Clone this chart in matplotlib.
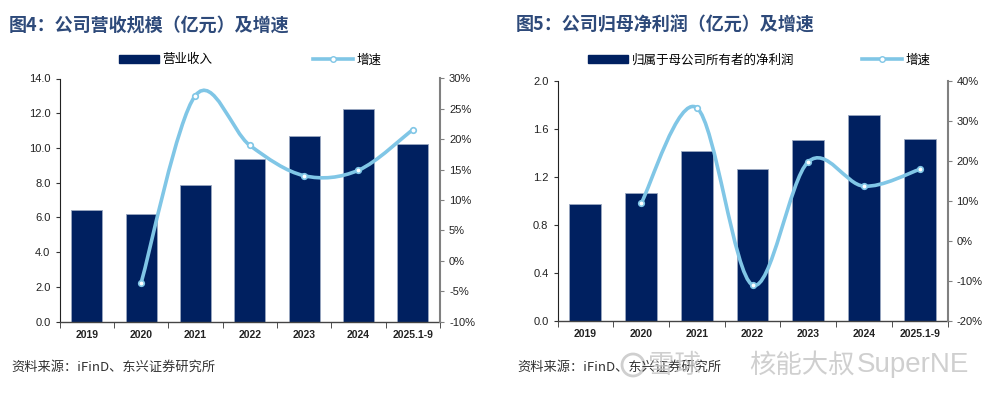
import matplotlib
matplotlib.use("Agg")
import matplotlib.pyplot as plt
import matplotlib.ticker as mticker
from matplotlib.path import Path
from matplotlib.patches import PathPatch, Ellipse
import matplotlib.lines as mlines
import matplotlib.patches as mpatches
import numpy as np

plt.rcParams['font.family'] = ['Liberation Sans', 'Noto Sans CJK SC', 'DejaVu Sans']
CJK = ['Noto Sans CJK SC', 'DejaVu Sans']

years = ['2019', '2020', '2021', '2022', '2023', '2024', '2025.1-9']
revenue = [6.41, 6.18, 7.84, 9.34, 10.66, 12.23, 10.22]
revenue_growth = [None, -0.037, 0.272, 0.190, 0.140, 0.149, 0.216]
profit = [0.972, 1.064, 1.42, 1.264, 1.51, 1.72, 1.52]
profit_growth = [None, 0.094, 0.333, -0.110, 0.198, 0.137, 0.179]

NAVY = '#002060'
SKY = '#80C6E6'
W, H = 1001, 395

fig = plt.figure(figsize=(W / 100, H / 100), dpi=100)


def px_axes(x0, y0, x1, y1):
    return fig.add_axes([x0 / W, 1 - y1 / H, (x1 - x0) / W, (y1 - y0) / H])


def smooth_path(xs, ys):
    # Catmull-Rom style smoothing, like an office "smoothed line"
    pts = np.column_stack([xs, ys])
    verts = [pts[0]]
    codes = [Path.MOVETO]
    n = len(pts)
    for i in range(n - 1):
        p0 = pts[max(i - 1, 0)]
        p1 = pts[i]
        p2 = pts[i + 1]
        p3 = pts[min(i + 2, n - 1)]
        c1 = p1 + (p2 - p0) / 6
        c2 = p2 - (p3 - p1) / 6
        verts += [c1, c2, p2]
        codes += [Path.CURVE4] * 3
    return Path(verts, codes)


def draw_panel(box, values, growth, ylim, ystep, yfmt, glim, gstep):
    ax = px_axes(*box)
    x = np.arange(len(years))
    ax.bar(x, values, width=0.57, color=NAVY, edgecolor='#9AA8C0', linewidth=0.6, zorder=2)
    ax.set_xlim(-0.5, len(years) - 0.5)
    ax.set_ylim(*ylim)
    ax.set_yticks(np.arange(ylim[0], ylim[1] + ystep / 2, ystep))
    ax.yaxis.set_major_formatter(mticker.FormatStrFormatter(yfmt))
    ax.set_xticks(x)
    ax.set_xticklabels(years, fontsize=7.5, fontweight='bold', color='#222222')
    ax.set_xticks(np.arange(-0.5, len(years)), minor=True)
    ax.tick_params(axis='x', which='major', length=0, pad=6)
    ax.tick_params(axis='x', which='minor', length=4, color='#333333')
    ax.tick_params(axis='y', length=3, labelsize=8, color='#333333', labelcolor='#222222')
    for s in ['top', 'right']:
        ax.spines[s].set_visible(False)
    ax.spines['left'].set_color('#222222')
    ax.spines['bottom'].set_color('#444444')
    ax.spines['bottom'].set_linewidth(1.0)

    ax2 = ax.twinx()
    ax2.set_ylim(*glim)
    ax2.set_yticks(np.arange(glim[0], glim[1] + gstep / 2, gstep))
    ax2.yaxis.set_major_formatter(mticker.FuncFormatter(lambda v, p: f'{v * 100:.0f}%'))
    ax2.tick_params(axis='y', length=3, labelsize=8, color='#808080', labelcolor='#222222')
    for s in ['top', 'left', 'bottom']:
        ax2.spines[s].set_visible(False)
    ax2.spines['right'].set_color('#808080')
    ax2.spines['right'].set_linewidth(1.5)

    gx = [i for i, g in enumerate(growth) if g is not None]
    gy = [g for g in growth if g is not None]
    ax2.add_patch(PathPatch(smooth_path(gx, gy), facecolor='none', edgecolor=SKY,
                            linewidth=2.6, zorder=3, capstyle='round'))
    ax2.plot(gx, gy, ls='none', marker='o', ms=4, mfc='white', mec=SKY, mew=1.2, zorder=4)
    return ax, ax2


draw_panel((59.5, 78.5, 440, 321.5), revenue, revenue_growth,
           (0, 14), 2, '%.1f', (-0.10, 0.30), 0.05)
draw_panel((557.5, 81, 947.5, 321), profit, profit_growth,
           (0, 2.0), 0.4, '%.1f', (-0.20, 0.40), 0.10)

# titles
title_kw = dict(fontsize=13, fontweight='bold', color='#2E4A7A', family=CJK, va='center')
fig.text(9 / W, 1 - 25 / H, '图4：公司营收规模（亿元）及增速', **title_kw)
fig.text(516 / W, 1 - 25 / H, '图5：公司归母净利润（亿元）及增速', **title_kw)


# legends
def legend_handles(bar_label):
    bar_h = mpatches.Patch(color=NAVY, label=bar_label)
    line_h = mlines.Line2D([], [], color=SKY, lw=2.6, marker='o', ms=4,
                           mfc='white', mec=SKY, label='增速')
    return [bar_h, line_h]


fig.legend(handles=legend_handles('营业收入'), loc='center',
           bbox_to_anchor=(250 / W, 1 - 60 / H),
           ncol=2, frameon=False, handlelength=3.2, handleheight=0.55,
           handletextpad=0.3, columnspacing=8.0, prop={'family': CJK, 'size': 9})
fig.legend(handles=legend_handles('归属于母公司所有者的净利润'), loc='center',
           bbox_to_anchor=(759 / W, 1 - 60 / H),
           ncol=2, frameon=False, handlelength=3.2, handleheight=0.55,
           handletextpad=0.3, columnspacing=5.4, prop={'family': CJK, 'size': 9})

# sources
src = '资料来源：iFinD、东兴证券研究所'
src_kw = dict(fontsize=9.5, color='#333333', family=CJK, va='center')
fig.text(11 / W, 1 - 367 / H, src, **src_kw)
fig.text(517 / W, 1 - 367 / H, src, **src_kw)

# watermark (overlaps the right source line, as in the original)
wm = '#C4C4C4'
fig.patches.append(Ellipse((633 / W, 1 - 365 / H), 22 / W, 22 / H, transform=fig.transFigure,
                           facecolor='none', edgecolor=wm, lw=2, alpha=0.8))
fig.text(648 / W, 1 - 365 / H, '雪球', fontsize=19, color=wm, family=CJK,
         va='center', alpha=0.8)
fig.text(749 / W, 1 - 365 / H, '核能大叔', fontsize=19, color=wm, family=CJK,
         va='center', alpha=0.8)
fig.text(857 / W, 1 - 365 / H, 'SuperNE', fontsize=20, color=wm,
         family=['Liberation Sans'], va='center', alpha=0.8)

fig.savefig('out.png', dpi=100)
